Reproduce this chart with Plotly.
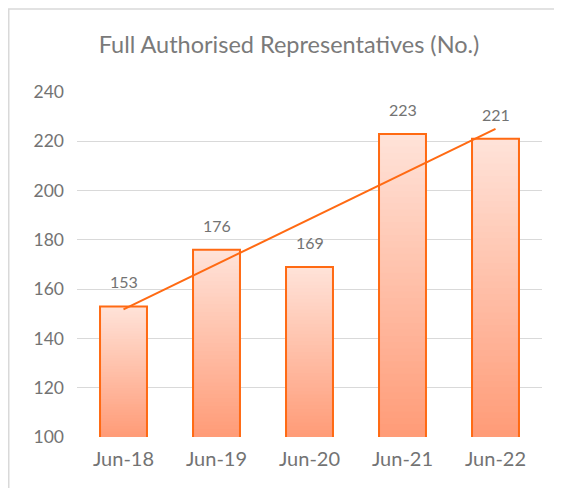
import numpy as np
import plotly.graph_objects as go

# ---- data ----
categories = ["Jun-18", "Jun-19", "Jun-20", "Jun-21", "Jun-22"]
values = [153, 176, 169, 223, 221]
y_ticks = [100, 120, 140, 160, 180, 200, 220, 240]
title_text = "Full Authorised Representatives (No.)"

# ---- style ----
OFF = 8  # page body margin
W, H = 562 - OFF, 488 - OFF
ML, MR, MT, MB = 77 - OFF, 20, 92 - OFF, 51
ORANGE = "#FF6A13"
TOP_RGB = np.array([255, 226, 216])
BOT_RGB = np.array([255, 156, 120])
TXT = "#737373"
FONT = "Lato, 'Open Sans', sans-serif"
Y0, Y1 = y_ticks[0], y_ticks[-1]

fig = go.Figure()

# gradient bars (stack of overlaid bars, light at top -> darker at bottom)
N = 48
vals = np.array(values, dtype=float)
for k in range(N):
    frac = (N - k) / N
    t = k / (N - 1)
    rgb = TOP_RGB * (1 - t) + BOT_RGB * t
    col = "rgb({:.0f},{:.0f},{:.0f})".format(*rgb)
    fig.add_trace(go.Bar(
        x=categories, y=Y0 + (vals - Y0) * frac,
        marker=dict(color=col, line=dict(width=0)),
        hoverinfo="skip", showlegend=False,
    ))

# outline
fig.add_trace(go.Bar(
    x=categories, y=values,
    marker=dict(color="rgba(0,0,0,0)", line=dict(color=ORANGE, width=2)),
    hoverinfo="skip", showlegend=False,
))

# linear trendline
xi = np.arange(1, len(values) + 1)
slope, intercept = np.polyfit(xi, vals, 1)
fig.add_trace(go.Scatter(
    x=categories, y=slope * xi + intercept, mode="lines",
    line=dict(color=ORANGE, width=2), hoverinfo="skip", showlegend=False,
))

# data labels
for c, v in zip(categories, values):
    fig.add_annotation(x=c, y=v, text=str(v), showarrow=False,
                       yanchor="bottom", yshift=13,
                       font=dict(family=FONT, size=16, color=TXT))

pw = W - ML - MR
ph = H - MT - MB
# chart border (left/top visible, rest cropped)
bx0 = 0.75
by_top = 1
fig.add_shape(type="rect", xref="paper", yref="paper",
              x0=(bx0 - ML) / pw, x1=(W + 10 - ML) / pw,
              y0=-(MB + 10) / ph, y1=(H - by_top - MB) / ph,
              line=dict(color="#d9d9d9", width=1.5), fillcolor="rgba(0,0,0,0)")

fig.update_layout(
    width=W, height=H,
    margin=dict(l=ML, r=MR, t=MT, b=MB),
    barmode="overlay", bargap=0.495,
    paper_bgcolor="white", plot_bgcolor="white",
    title=dict(text=title_text, x=(289 - OFF) / W, xanchor="center",
               y=1 - (45 - OFF) / H, yanchor="middle", yref="container", xref="container",
               font=dict(family=FONT, size=23.5, color="#7a7a7a")),
    font=dict(family=FONT, color=TXT),
    xaxis=dict(showgrid=False, showline=False, ticks="",
               tickfont=dict(size=20, color=TXT), ticklabelstandoff=8),
    yaxis=dict(range=[Y0, Y1], tickvals=y_ticks, showgrid=True,
               gridcolor="#d9d9d9", gridwidth=1, zeroline=False,
               showline=False, ticks="", tickfont=dict(size=17.5, color=TXT),
               ticklabelstandoff=12),
)

fig.write_html("out.html")
